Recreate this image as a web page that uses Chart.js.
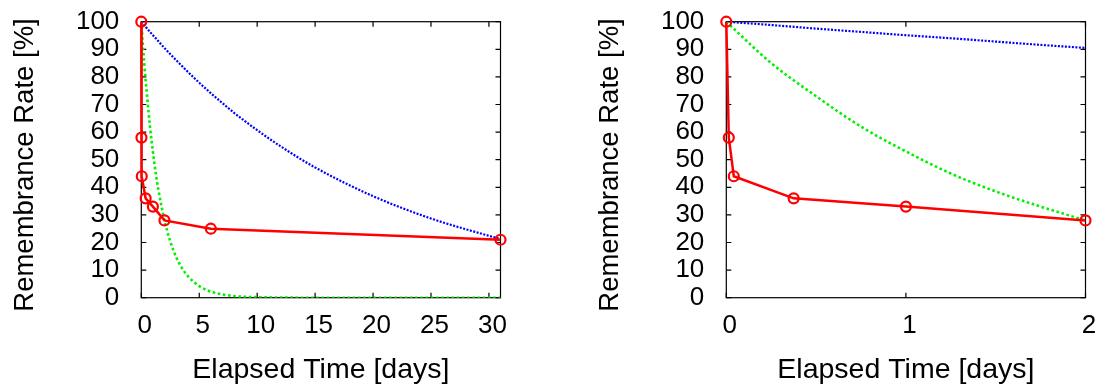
<!DOCTYPE html>
<html>
<head>
<meta charset="utf-8">
<script src="https://cdn.jsdelivr.net/npm/chart.js@4/dist/chart.umd.min.js"></script>
<style>
  body { margin: 0; background: #fff; width: 1101px; height: 390px; position: relative; overflow: hidden; }
  canvas { position: absolute; top: 0; }
  #leftCanvas { left: 0; }
  #rightCanvas { left: 585px; }
</style>
</head>
<body>
<canvas id="leftCanvas" width="516" height="390"></canvas>
<canvas id="rightCanvas" width="516" height="390"></canvas>
<script>
// measured retention (red circles)
const redDays = [0, 0.0139, 0.0417, 0.375, 1, 2, 6, 31];
const redRates = [100, 58, 44, 36, 33, 28, 25, 21];

// the two dotted curves
const curveDays = [0, 0.25, 0.5, 0.75, 1, 1.25, 1.5, 1.75, 2, 2.5, 3, 3.5, 4, 5, 6, 7, 8, 9, 10, 12, 15, 20, 25, 31];
const blueRates = [100, 98.8, 97.5, 96.3, 95.1, 94, 92.8, 91.6, 90.5, 88.2, 86.1, 84, 81.9, 77.9, 74.1, 70.5, 67, 63.8, 60.7, 54.9, 47.2, 36.8, 28.7, 21.2];
const greenRates = [100, 85, 73, 62, 53, 45, 38.5, 33, 28, 20.4, 14.8, 10.8, 7.9, 4.2, 2.2, 1.2, 0.6, 0.3, 0.2, 0.05, 0, 0, 0, 0];

const yTicks = { min: 0, max: 100, step: 10 };
const leftX = { min: 0, max: 31, step: 5 };
const rightX = { min: 0, max: 2, step: 1 };

const xTitle = 'Elapsed Time [days]';
const yTitle = 'Remembrance Rate [%]';
const fontFamily = '"Liberation Sans", Arial, Helvetica, sans-serif';

function toPoints(days, rates, maxDay) {
  let pts = [];
  for (let i in days) {
    if (days[i] <= maxDay) pts.push({ x: days[i], y: rates[i] });
  }
  return pts;
}

// gnuplot style box with inward tick marks on all four sides
const frameTicks = {
  id: 'frameTicks',
  beforeDatasetsDraw(chart) {
    const ctx = chart.ctx;
    const a = chart.chartArea;
    const x = chart.scales.x;
    const y = chart.scales.y;
    const len = 5;
    ctx.save();
    ctx.strokeStyle = '#000';
    ctx.lineWidth = 1.2;
    ctx.beginPath();
    x.ticks.forEach(t => {
      const px = x.getPixelForValue(t.value);
      ctx.moveTo(px, a.bottom); ctx.lineTo(px, a.bottom - len);
      ctx.moveTo(px, a.top); ctx.lineTo(px, a.top + len);
    });
    y.ticks.forEach(t => {
      const py = y.getPixelForValue(t.value);
      ctx.moveTo(a.left, py); ctx.lineTo(a.left + len, py);
      ctx.moveTo(a.right, py); ctx.lineTo(a.right - len, py);
    });
    ctx.stroke();
    ctx.strokeRect(a.left, a.top, a.right - a.left, a.bottom - a.top);
    ctx.restore();
  },
  // rotated y title, centred a bit lower than the plot like gnuplot does
  afterDraw(chart) {
    const ctx = chart.ctx;
    ctx.save();
    ctx.translate(25, 165);
    ctx.rotate(-Math.PI / 2);
    ctx.font = '27.5px ' + fontFamily;
    ctx.fillStyle = '#000';
    ctx.textAlign = 'center';
    ctx.textBaseline = 'middle';
    ctx.fillText(yTitle, 0, 0);
    ctx.restore();
  }
};

function makeChart(id, xr) {
  const datasets = [{
    label: 'measured',
    data: toPoints(redDays, redRates, xr.max),
    borderColor: '#ff0000',
    backgroundColor: 'rgba(0,0,0,0)',
    borderWidth: 2.5,
    pointRadius: 5,
    pointBorderWidth: 2.2,
    pointBorderColor: '#ff0000',
    pointBackgroundColor: 'rgba(0,0,0,0)',
    tension: 0,
    clip: false,
    order: 0
  }, {
    label: 'blue',
    data: toPoints(curveDays, blueRates, xr.max),
    borderColor: '#0000ff',
    borderWidth: 2.2,
    borderDash: [2, 1.5],
    pointRadius: 0,
    cubicInterpolationMode: 'monotone',
    order: 2
  }, {
    label: 'green',
    data: toPoints(curveDays, greenRates, xr.max),
    borderColor: '#00f000',
    borderWidth: 2.6,
    borderDash: [2.6, 2.6],
    pointRadius: 0,
    cubicInterpolationMode: 'monotone',
    order: 1
  }];

  return new Chart(document.getElementById(id), {
    type: 'line',
    data: { datasets: datasets },
    options: {
      responsive: false,
      animation: false,
      layout: { padding: { top: 21.7, right: 15.5, bottom: 0, left: 0 } },
      plugins: { legend: { display: false }, tooltip: { enabled: false } },
      scales: {
        x: {
          type: 'linear',
          min: xr.min,
          max: xr.max,
          afterFit: s => { s.height = 92.3; s.paddingLeft = 0; s.paddingRight = 0; },
          grid: { display: false, drawTicks: false },
          border: { display: false },
          ticks: {
            stepSize: xr.step,
            includeBounds: false,
            padding: 13,
            labelOffset: 3.5,
            color: '#000',
            font: { family: fontFamily, size: 26 }
          },
          title: {
            display: true,
            text: xTitle,
            color: '#000',
            padding: { top: 0, bottom: 3 },
            font: { family: fontFamily, size: 28.5 }
          }
        },
        y: {
          min: yTicks.min,
          max: yTicks.max,
          afterFit: s => { s.width = 141.3; s.paddingTop = 0; s.paddingBottom = 0; },
          grid: { display: false, drawTicks: false },
          border: { display: false },
          ticks: {
            stepSize: yTicks.step,
            autoSkip: false,
            padding: 22,
            color: '#000',
            font: { family: fontFamily, size: 26 }
          },
          title: { display: false }
        }
      }
    },
    plugins: [frameTicks]
  });
}

makeChart('leftCanvas', leftX);
makeChart('rightCanvas', rightX);
</script>
</body>
</html>
